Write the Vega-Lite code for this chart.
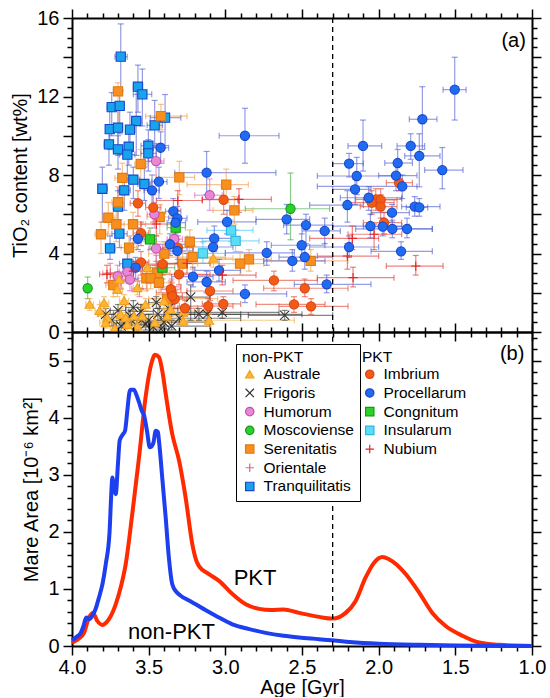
{
"$schema":"https://vega.github.io/schema/vega-lite/v6.json",
"padding":{"left":10,"top":8,"right":0,"bottom":0},
"bounds":"flush",
"spacing":0,
"config":{"font":"Liberation Sans","view":{"stroke":null},
"axis":{"domainColor":"black","domainWidth":2,"tickColor":"black","tickWidth":1.5,"grid":false,"labelFont":"Liberation Sans","labelFontSize":20,"labelColor":"black","titleFont":"Liberation Sans","titleFontSize":20,"titleFontWeight":"normal","titleColor":"black","labelFlush":false,"labelOverlap":false,"labelPadding":4},
"legend":{"labelFont":"Liberation Sans","labelFontSize":15.5,"labelColor":"black","titleFont":"Liberation Sans","titleFontSize":15.5,"titleFontWeight":"normal","titleColor":"black"}},
"resolve":{"scale":{"color":"independent"}},
"datasets":{
"pts":[
{"g":"Tranquilitatis","a":3.682,"a0":3.72,"a1":3.64,"t":14.03,"t0":12.3,"t1":15.7},
{"g":"Tranquilitatis","a":3.57,"a0":3.6,"a1":3.54,"t":12.5,"t0":11.2,"t1":13.6},
{"g":"Tranquilitatis","a":3.541,"a0":3.6,"a1":3.48,"t":12.11,"t0":10.5,"t1":13.4},
{"g":"Tranquilitatis","a":3.741,"a0":3.77,"a1":3.71,"t":11.46,"t0":10.0,"t1":12.2},
{"g":"Tranquilitatis","a":3.689,"a0":3.72,"a1":3.66,"t":11.52,"t0":10.1,"t1":12.3},
{"g":"Tranquilitatis","a":3.393,"a0":3.49,"a1":3.29,"t":10.92,"t0":9.5,"t1":12.1},
{"g":"Tranquilitatis","a":3.581,"a0":3.61,"a1":3.55,"t":10.75,"t0":9.0,"t1":12.3},
{"g":"Tranquilitatis","a":3.461,"a0":3.51,"a1":3.41,"t":10.53,"t0":9.4,"t1":11.8},
{"g":"Tranquilitatis","a":3.754,"a0":3.78,"a1":3.73,"t":10.34,"t0":9.3,"t1":11.4},
{"g":"Tranquilitatis","a":3.7,"a0":3.73,"a1":3.67,"t":10.41,"t0":9.0,"t1":11.3},
{"g":"Tranquilitatis","a":3.622,"a0":3.65,"a1":3.59,"t":10.31,"t0":9.3,"t1":11.2},
{"g":"Tranquilitatis","a":3.759,"a0":3.79,"a1":3.73,"t":9.56,"t0":8.5,"t1":10.4},
{"g":"Tranquilitatis","a":3.7,"a0":3.73,"a1":3.67,"t":9.31,"t0":8.3,"t1":10.0},
{"g":"Tranquilitatis","a":3.63,"a0":3.66,"a1":3.6,"t":9.44,"t0":8.5,"t1":10.5},
{"g":"Tranquilitatis","a":3.639,"a0":3.69,"a1":3.59,"t":9.04,"t0":8.0,"t1":9.6},
{"g":"Tranquilitatis","a":3.502,"a0":3.55,"a1":3.45,"t":9.49,"t0":8.7,"t1":10.3},
{"g":"Tranquilitatis","a":3.502,"a0":3.55,"a1":3.45,"t":9.1,"t0":8.2,"t1":9.8},
{"g":"Tranquilitatis","a":3.6,"a0":3.64,"a1":3.56,"t":7.76,"t0":6.8,"t1":8.4},
{"g":"Tranquilitatis","a":3.528,"a0":3.57,"a1":3.49,"t":7.54,"t0":6.7,"t1":8.4},
{"g":"Tranquilitatis","a":3.802,"a0":3.83,"a1":3.77,"t":7.3,"t0":5.6,"t1":8.4},
{"g":"Tranquilitatis","a":3.659,"a0":3.7,"a1":3.62,"t":7.22,"t0":6.2,"t1":8.0},
{"g":"Tranquilitatis","a":3.7,"a0":3.73,"a1":3.67,"t":6.39,"t0":5.4,"t1":7.2},
{"g":"Tranquilitatis","a":3.691,"a0":3.74,"a1":3.64,"t":5.01,"t0":4.3,"t1":5.7},
{"g":"Tranquilitatis","a":3.752,"a0":3.78,"a1":3.72,"t":4.26,"t0":3.7,"t1":4.9},
{"g":"Tranquilitatis","a":3.639,"a0":3.69,"a1":3.59,"t":3.48,"t0":2.9,"t1":4.0},
{"g":"Serenitatis","a":3.7,"a0":3.73,"a1":3.67,"t":12.26,"t0":10.5,"t1":12.7},
{"g":"Serenitatis","a":3.42,"a0":3.52,"a1":3.25,"t":11.0,"t0":10.3,"t1":11.6},
{"g":"Serenitatis","a":3.552,"a0":3.59,"a1":3.51,"t":8.56,"t0":7.6,"t1":9.3},
{"g":"Serenitatis","a":3.672,"a0":3.72,"a1":3.62,"t":7.85,"t0":6.8,"t1":8.6},
{"g":"Serenitatis","a":3.3,"a0":3.45,"a1":3.2,"t":7.88,"t0":7.0,"t1":8.7},
{"g":"Serenitatis","a":2.994,"a0":3.25,"a1":2.85,"t":7.51,"t0":6.6,"t1":8.3},
{"g":"Serenitatis","a":3.7,"a0":3.74,"a1":3.66,"t":6.61,"t0":5.6,"t1":7.4},
{"g":"Serenitatis","a":2.941,"a0":3.08,"a1":2.82,"t":6.2,"t0":5.5,"t1":6.9},
{"g":"Serenitatis","a":3.763,"a0":3.8,"a1":3.72,"t":5.82,"t0":5.0,"t1":6.6},
{"g":"Serenitatis","a":3.711,"a0":3.76,"a1":3.66,"t":5.49,"t0":4.6,"t1":6.3},
{"g":"Serenitatis","a":3.602,"a0":3.68,"a1":3.52,"t":5.49,"t0":4.5,"t1":6.1},
{"g":"Serenitatis","a":3.428,"a0":3.51,"a1":3.35,"t":5.86,"t0":5.0,"t1":6.5},
{"g":"Serenitatis","a":3.811,"a0":3.85,"a1":3.77,"t":4.98,"t0":4.0,"t1":5.6},
{"g":"Serenitatis","a":3.628,"a0":3.68,"a1":3.58,"t":4.3,"t0":3.6,"t1":4.9},
{"g":"Serenitatis","a":3.232,"a0":3.45,"a1":3.05,"t":4.6,"t0":3.9,"t1":5.2},
{"g":"Serenitatis","a":3.398,"a0":3.5,"a1":3.3,"t":3.99,"t0":3.3,"t1":4.6},
{"g":"Serenitatis","a":3.213,"a0":3.4,"a1":3.0,"t":3.82,"t0":3.2,"t1":4.4},
{"g":"Serenitatis","a":3.278,"a0":3.38,"a1":3.18,"t":3.48,"t0":2.9,"t1":4.1},
{"g":"Serenitatis","a":2.846,"a0":3.1,"a1":2.7,"t":3.7,"t0":3.1,"t1":4.2},
{"g":"Serenitatis","a":2.904,"a0":3.1,"a1":2.75,"t":3.48,"t0":2.9,"t1":4.1},
{"g":"Serenitatis","a":2.443,"a0":2.75,"a1":2.2,"t":3.62,"t0":3.1,"t1":4.2},
{"g":"Serenitatis","a":3.444,"a0":3.52,"a1":3.36,"t":3.01,"t0":2.4,"t1":3.6},
{"g":"Serenitatis","a":3.515,"a0":3.57,"a1":3.46,"t":2.74,"t0":2.1,"t1":3.3},
{"g":"Serenitatis","a":3.487,"a0":3.54,"a1":3.43,"t":2.74,"t0":2.2,"t1":3.3},
{"g":"Serenitatis","a":3.433,"a0":3.51,"a1":3.35,"t":2.51,"t0":1.9,"t1":3.1},
{"g":"Serenitatis","a":3.731,"a0":3.78,"a1":3.68,"t":2.39,"t0":1.8,"t1":3.0},
{"g":"Serenitatis","a":3.378,"a0":3.5,"a1":3.05,"t":1.7,"t0":1.2,"t1":2.2},
{"g":"Humorum","a":3.452,"a0":3.5,"a1":3.4,"t":8.71,"t0":7.7,"t1":9.6},
{"g":"Humorum","a":3.102,"a0":3.2,"a1":3.02,"t":6.97,"t0":6.2,"t1":7.8},
{"g":"Humorum","a":3.463,"a0":3.51,"a1":3.41,"t":6.0,"t0":5.3,"t1":6.6},
{"g":"Humorum","a":3.333,"a0":3.38,"a1":3.28,"t":4.74,"t0":4.1,"t1":5.4},
{"g":"Humorum","a":3.452,"a0":3.5,"a1":3.4,"t":4.26,"t0":3.6,"t1":4.9},
{"g":"Humorum","a":3.639,"a0":3.69,"a1":3.59,"t":3.07,"t0":2.5,"t1":3.6},
{"g":"Humorum","a":3.702,"a0":3.75,"a1":3.65,"t":2.84,"t0":2.3,"t1":3.4},
{"g":"Humorum","a":3.622,"a0":3.67,"a1":3.57,"t":2.67,"t0":2.1,"t1":3.2},
{"g":"Moscoviense","a":3.898,"a0":3.92,"a1":3.88,"t":2.23,"t0":1.7,"t1":2.8},
{"g":"Moscoviense","a":2.575,"a0":2.87,"a1":2.32,"t":6.28,"t0":4.7,"t1":8.1},
{"g":"Congnitum","a":3.491,"a0":3.53,"a1":3.45,"t":4.72,"t0":4.2,"t1":5.3},
{"g":"Congnitum","a":3.324,"a0":3.38,"a1":3.26,"t":5.32,"t0":4.7,"t1":5.9},
{"g":"Congnitum","a":3.41,"a0":3.49,"a1":3.33,"t":3.28,"t0":2.7,"t1":3.8},
{"g":"Insularum","a":2.963,"a0":3.12,"a1":2.82,"t":5.18,"t0":4.6,"t1":5.7},
{"g":"Insularum","a":2.933,"a0":3.15,"a1":2.78,"t":4.64,"t0":4.1,"t1":5.2},
{"g":"Insularum","a":3.146,"a0":3.3,"a1":3.0,"t":4.01,"t0":3.5,"t1":4.6},
{"g":"Imbrium","a":3.57,"a0":3.62,"a1":3.52,"t":6.56,"t0":5.9,"t1":7.2},
{"g":"Imbrium","a":3.011,"a0":3.15,"a1":2.92,"t":6.74,"t0":6.0,"t1":7.4},
{"g":"Imbrium","a":3.47,"a0":3.52,"a1":3.42,"t":6.34,"t0":5.6,"t1":7.0},
{"g":"Imbrium","a":3.55,"a0":3.6,"a1":3.5,"t":5.04,"t0":4.4,"t1":5.6},
{"g":"Imbrium","a":3.309,"a0":3.41,"a1":3.21,"t":4.3,"t0":3.7,"t1":4.9},
{"g":"Imbrium","a":3.55,"a0":3.6,"a1":3.5,"t":3.55,"t0":2.9,"t1":4.1},
{"g":"Imbrium","a":3.409,"a0":3.51,"a1":3.31,"t":3.46,"t0":2.9,"t1":4.0},
{"g":"Imbrium","a":3.302,"a0":3.45,"a1":3.1,"t":2.94,"t0":2.4,"t1":3.5},
{"g":"Imbrium","a":2.683,"a0":2.95,"a1":2.4,"t":2.63,"t0":2.1,"t1":3.1},
{"g":"Imbrium","a":2.482,"a0":2.75,"a1":2.2,"t":2.23,"t0":1.8,"t1":2.7},
{"g":"Imbrium","a":3.1,"a0":3.25,"a1":2.95,"t":2.09,"t0":1.6,"t1":2.6},
{"g":"Imbrium","a":3.35,"a0":3.45,"a1":3.25,"t":2.0,"t0":1.5,"t1":2.5},
{"g":"Imbrium","a":3.33,"a0":3.41,"a1":3.25,"t":1.67,"t0":1.2,"t1":2.1},
{"g":"Imbrium","a":3.263,"a0":3.34,"a1":3.18,"t":1.21,"t0":0.8,"t1":1.6},
{"g":"Imbrium","a":3.111,"a0":3.3,"a1":2.95,"t":1.32,"t0":0.9,"t1":1.7},
{"g":"Imbrium","a":3.013,"a0":3.15,"a1":2.9,"t":1.43,"t0":1.0,"t1":1.8},
{"g":"Imbrium","a":2.552,"a0":2.8,"a1":2.35,"t":1.41,"t0":1.0,"t1":1.8},
{"g":"Imbrium","a":2.441,"a0":2.65,"a1":2.2,"t":1.31,"t0":0.9,"t1":1.7},
{"g":"Imbrium","a":1.867,"a0":1.95,"a1":1.78,"t":7.61,"t0":7.2,"t1":8.0},
{"g":"Imbrium","a":2.019,"a0":2.15,"a1":1.85,"t":6.76,"t0":6.2,"t1":7.3},
{"g":"Imbrium","a":1.987,"a0":2.1,"a1":1.88,"t":6.73,"t0":6.2,"t1":7.3},
{"g":"Imbrium","a":2.045,"a0":2.2,"a1":1.9,"t":6.59,"t0":6.0,"t1":7.2},
{"g":"Imbrium","a":1.987,"a0":2.12,"a1":1.88,"t":6.39,"t0":5.8,"t1":7.0},
{"g":"Imbrium","a":1.965,"a0":2.1,"a1":1.85,"t":5.57,"t0":5.0,"t1":6.1},
{"g":"Imbrium","a":3.356,"a0":3.42,"a1":3.29,"t":2.18,"t0":1.7,"t1":2.6},
{"g":"Imbrium","a":3.346,"a0":3.41,"a1":3.28,"t":1.83,"t0":1.4,"t1":2.3},
{"g":"Procellarum","a":2.872,"a0":3.04,"a1":2.65,"t":10.0,"t0":8.6,"t1":11.4},
{"g":"Procellarum","a":3.422,"a0":3.47,"a1":3.37,"t":9.39,"t0":8.6,"t1":10.2},
{"g":"Procellarum","a":3.122,"a0":3.33,"a1":2.67,"t":8.12,"t0":7.0,"t1":9.2},
{"g":"Procellarum","a":3.433,"a0":3.48,"a1":3.38,"t":7.66,"t0":6.8,"t1":8.4},
{"g":"Procellarum","a":3.478,"a0":3.53,"a1":3.43,"t":7.22,"t0":6.3,"t1":8.0},
{"g":"Procellarum","a":3.339,"a0":3.39,"a1":3.29,"t":6.15,"t0":5.5,"t1":6.8},
{"g":"Procellarum","a":3.313,"a0":3.37,"a1":3.25,"t":5.79,"t0":5.1,"t1":6.4},
{"g":"Procellarum","a":3.324,"a0":3.38,"a1":3.26,"t":5.57,"t0":5.0,"t1":6.2},
{"g":"Procellarum","a":2.989,"a0":3.18,"a1":2.8,"t":5.61,"t0":5.0,"t1":6.2},
{"g":"Procellarum","a":2.6,"a0":2.8,"a1":2.45,"t":5.74,"t0":5.0,"t1":6.5},
{"g":"Procellarum","a":2.474,"a0":2.62,"a1":2.3,"t":5.45,"t0":4.5,"t1":6.0},
{"g":"Procellarum","a":3.57,"a0":3.62,"a1":3.52,"t":4.75,"t0":4.2,"t1":5.3},
{"g":"Procellarum","a":3.361,"a0":3.46,"a1":3.26,"t":4.47,"t0":3.9,"t1":5.0},
{"g":"Procellarum","a":3.072,"a0":3.25,"a1":2.95,"t":4.77,"t0":4.1,"t1":5.4},
{"g":"Procellarum","a":3.08,"a0":3.25,"a1":2.95,"t":4.33,"t0":3.7,"t1":4.9},
{"g":"Procellarum","a":3.313,"a0":3.41,"a1":3.21,"t":4.13,"t0":3.5,"t1":4.7},
{"g":"Procellarum","a":2.502,"a0":2.7,"a1":2.35,"t":4.42,"t0":3.8,"t1":5.0},
{"g":"Procellarum","a":2.73,"a0":3.0,"a1":2.55,"t":4.03,"t0":3.4,"t1":4.6},
{"g":"Procellarum","a":2.563,"a0":2.75,"a1":2.35,"t":3.62,"t0":3.1,"t1":4.2},
{"g":"Procellarum","a":2.482,"a0":2.65,"a1":2.3,"t":3.82,"t0":3.2,"t1":4.4},
{"g":"Procellarum","a":3.585,"a0":3.63,"a1":3.54,"t":3.28,"t0":2.7,"t1":3.8},
{"g":"Procellarum","a":3.041,"a0":3.2,"a1":2.9,"t":3.14,"t0":2.6,"t1":3.7},
{"g":"Procellarum","a":3.211,"a0":3.35,"a1":3.08,"t":2.82,"t0":2.3,"t1":3.3},
{"g":"Procellarum","a":3.122,"a0":3.25,"a1":3.0,"t":2.55,"t0":2.0,"t1":3.1},
{"g":"Procellarum","a":2.872,"a0":3.1,"a1":2.6,"t":1.94,"t0":1.5,"t1":2.4},
{"g":"Procellarum","a":1.504,"a0":1.58,"a1":1.43,"t":12.35,"t0":10.8,"t1":14.0},
{"g":"Procellarum","a":1.715,"a0":1.8,"a1":1.62,"t":10.84,"t0":9.3,"t1":12.5},
{"g":"Procellarum","a":2.102,"a0":2.2,"a1":1.98,"t":9.48,"t0":8.2,"t1":10.8},
{"g":"Procellarum","a":1.791,"a0":1.88,"a1":1.7,"t":9.48,"t0":8.8,"t1":10.1},
{"g":"Procellarum","a":1.735,"a0":1.83,"a1":1.6,"t":8.97,"t0":7.4,"t1":10.1},
{"g":"Procellarum","a":2.193,"a0":2.3,"a1":2.1,"t":8.58,"t0":7.9,"t1":9.1},
{"g":"Procellarum","a":1.876,"a0":1.96,"a1":1.78,"t":8.61,"t0":7.9,"t1":9.3},
{"g":"Procellarum","a":1.585,"a0":1.7,"a1":1.45,"t":8.25,"t0":7.3,"t1":9.4},
{"g":"Procellarum","a":2.143,"a0":2.4,"a1":1.9,"t":7.95,"t0":7.0,"t1":8.9},
{"g":"Procellarum","a":1.887,"a0":2.0,"a1":1.75,"t":7.97,"t0":7.2,"t1":8.6},
{"g":"Procellarum","a":1.846,"a0":2.4,"a1":1.75,"t":7.42,"t0":6.8,"t1":8.0},
{"g":"Procellarum","a":2.154,"a0":2.3,"a1":2.05,"t":7.27,"t0":6.5,"t1":7.8},
{"g":"Procellarum","a":2.065,"a0":2.25,"a1":1.85,"t":6.84,"t0":6.2,"t1":7.4},
{"g":"Procellarum","a":2.204,"a0":2.45,"a1":2.1,"t":6.47,"t0":5.6,"t1":7.2},
{"g":"Procellarum","a":1.765,"a0":1.85,"a1":1.6,"t":6.39,"t0":5.9,"t1":6.9},
{"g":"Procellarum","a":1.735,"a0":1.82,"a1":1.68,"t":6.35,"t0":5.9,"t1":6.8},
{"g":"Procellarum","a":1.913,"a0":2.05,"a1":1.8,"t":6.08,"t0":5.6,"t1":6.5},
{"g":"Procellarum","a":2.352,"a0":2.5,"a1":2.25,"t":5.15,"t0":4.5,"t1":5.8},
{"g":"Procellarum","a":2.054,"a0":2.3,"a1":1.85,"t":5.4,"t0":4.8,"t1":6.0},
{"g":"Procellarum","a":1.973,"a0":2.1,"a1":1.8,"t":5.37,"t0":4.9,"t1":5.8},
{"g":"Procellarum","a":1.911,"a0":2.15,"a1":1.65,"t":5.25,"t0":4.8,"t1":5.7},
{"g":"Procellarum","a":1.815,"a0":1.9,"a1":1.65,"t":5.25,"t0":4.8,"t1":5.8},
{"g":"Procellarum","a":2.193,"a0":2.45,"a1":2.0,"t":4.33,"t0":3.8,"t1":4.9},
{"g":"Procellarum","a":1.854,"a0":2.05,"a1":1.65,"t":4.11,"t0":3.7,"t1":4.6},
{"g":"Procellarum","a":2.339,"a0":2.55,"a1":2.05,"t":2.43,"t0":2.0,"t1":2.9},
{"g":"Nubium","a":2.911,"a0":3.15,"a1":2.7,"t":6.76,"t0":6.1,"t1":7.3},
{"g":"Nubium","a":2.172,"a0":2.45,"a1":2.0,"t":4.77,"t0":4.2,"t1":5.4},
{"g":"Nubium","a":2.03,"a0":2.2,"a1":1.85,"t":4.98,"t0":4.2,"t1":5.5},
{"g":"Nubium","a":2.204,"a0":2.4,"a1":2.0,"t":3.87,"t0":3.2,"t1":4.5},
{"g":"Nubium","a":2.167,"a0":2.4,"a1":1.9,"t":2.77,"t0":2.3,"t1":3.3},
{"g":"Nubium","a":1.758,"a0":1.95,"a1":1.58,"t":3.36,"t0":2.9,"t1":3.9},
{"g":"Nubium","a":3.772,"a0":3.82,"a1":3.72,"t":2.94,"t0":2.5,"t1":3.4},
{"g":"Nubium","a":3.45,"a0":3.55,"a1":3.35,"t":5.5,"t0":4.9,"t1":6.0},
{"g":"Nubium","a":3.6,"a0":3.66,"a1":3.54,"t":3.1,"t0":2.6,"t1":3.6},
{"g":"Nubium","a":3.02,"a0":3.2,"a1":2.8,"t":2.9,"t0":2.4,"t1":3.4},
{"g":"Nubium","a":3.25,"a0":3.4,"a1":3.1,"t":3.5,"t0":3.0,"t1":4.0},
{"g":"Nubium","a":3.31,"a0":3.45,"a1":3.15,"t":6.7,"t0":6.2,"t1":7.2},
{"g":"Orientale","a":3.75,"a0":3.8,"a1":3.7,"t":3.0,"t0":2.5,"t1":3.5},
{"g":"Orientale","a":3.68,"a0":3.72,"a1":3.64,"t":2.6,"t0":2.2,"t1":3.0},
{"g":"Orientale","a":3.45,"a0":3.51,"a1":3.39,"t":3.4,"t0":2.9,"t1":3.9},
{"g":"Orientale","a":3.35,"a0":3.41,"a1":3.29,"t":2.3,"t0":1.9,"t1":2.7},
{"g":"Orientale","a":3.56,"a0":3.61,"a1":3.51,"t":2.2,"t0":1.8,"t1":2.6},
{"g":"Frigoris","a":3.226,"a0":3.35,"a1":3.1,"t":1.78,"t0":0.6,"t1":2.4},
{"g":"Frigoris","a":3.172,"a0":3.4,"a1":2.5,"t":0.9,"t0":0.6,"t1":1.2},
{"g":"Frigoris","a":3.118,"a0":3.35,"a1":2.9,"t":0.9,"t0":0.6,"t1":1.2},
{"g":"Frigoris","a":3.02,"a0":3.25,"a1":2.65,"t":1.0,"t0":0.7,"t1":1.3},
{"g":"Frigoris","a":2.613,"a0":2.85,"a1":2.3,"t":0.85,"t0":0.6,"t1":1.1},
{"g":"Frigoris","a":3.78,"a0":3.83,"a1":3.73,"t":0.9,"t0":0.6,"t1":1.2},
{"g":"Frigoris","a":3.74,"a0":3.79,"a1":3.69,"t":0.6,"t0":0.3,"t1":0.9},
{"g":"Frigoris","a":3.7,"a0":3.75,"a1":3.65,"t":1.1,"t0":0.8,"t1":1.4},
{"g":"Frigoris","a":3.66,"a0":3.71,"a1":3.61,"t":0.45,"t0":0.2,"t1":0.7},
{"g":"Frigoris","a":3.62,"a0":3.68,"a1":3.56,"t":0.8,"t0":0.5,"t1":1.1},
{"g":"Frigoris","a":3.58,"a0":3.63,"a1":3.53,"t":0.35,"t0":0.1,"t1":0.6},
{"g":"Frigoris","a":3.55,"a0":3.63,"a1":3.47,"t":1.05,"t0":0.7,"t1":1.4},
{"g":"Frigoris","a":3.5,"a0":3.6,"a1":3.3,"t":0.6,"t0":0.3,"t1":0.9},
{"g":"Frigoris","a":3.47,"a0":3.52,"a1":3.42,"t":0.25,"t0":0.05,"t1":0.5},
{"g":"Frigoris","a":3.44,"a0":3.55,"a1":3.2,"t":0.9,"t0":0.6,"t1":1.2},
{"g":"Frigoris","a":3.4,"a0":3.55,"a1":3.1,"t":0.5,"t0":0.2,"t1":0.8},
{"g":"Frigoris","a":3.37,"a0":3.43,"a1":3.31,"t":1.2,"t0":0.9,"t1":1.5},
{"g":"Frigoris","a":3.35,"a0":3.5,"a1":3.1,"t":0.3,"t0":0.1,"t1":0.6},
{"g":"Frigoris","a":3.45,"a0":3.5,"a1":3.4,"t":1.5,"t0":1.2,"t1":1.8},
{"g":"Frigoris","a":3.6,"a0":3.65,"a1":3.55,"t":1.25,"t0":0.9,"t1":1.6},
{"g":"Frigoris","a":3.52,"a0":3.57,"a1":3.47,"t":0.4,"t0":0.1,"t1":0.7},
{"g":"Frigoris","a":3.68,"a0":3.73,"a1":3.63,"t":0.3,"t0":0.05,"t1":0.6},
{"g":"Frigoris","a":3.3,"a0":3.4,"a1":2.9,"t":0.7,"t0":0.4,"t1":1.0},
{"g":"Frigoris","a":3.42,"a0":3.47,"a1":3.37,"t":0.15,"t0":0.0,"t1":0.4},
{"g":"Australe","a":3.885,"a0":3.91,"a1":3.86,"t":1.41,"t0":1.1,"t1":1.7},
{"g":"Australe","a":3.791,"a0":3.82,"a1":3.76,"t":1.49,"t0":1.2,"t1":1.8},
{"g":"Australe","a":3.704,"a0":3.73,"a1":3.67,"t":2.17,"t0":1.8,"t1":2.5},
{"g":"Australe","a":3.693,"a0":3.72,"a1":3.66,"t":2.69,"t0":2.3,"t1":3.0},
{"g":"Australe","a":3.574,"a0":3.6,"a1":3.54,"t":2.26,"t0":1.9,"t1":2.6},
{"g":"Australe","a":3.509,"a0":3.56,"a1":3.46,"t":3.28,"t0":2.9,"t1":3.6},
{"g":"Australe","a":3.52,"a0":3.57,"a1":3.47,"t":1.41,"t0":1.1,"t1":1.7},
{"g":"Australe","a":3.77,"a0":3.81,"a1":3.73,"t":0.73,"t0":0.4,"t1":1.0},
{"g":"Australe","a":3.682,"a0":3.72,"a1":3.64,"t":0.9,"t0":0.6,"t1":1.2},
{"g":"Australe","a":3.65,"a0":3.69,"a1":3.61,"t":0.73,"t0":0.4,"t1":1.0},
{"g":"Australe","a":3.639,"a0":3.68,"a1":3.6,"t":0.39,"t0":0.1,"t1":0.7},
{"g":"Australe","a":3.596,"a0":3.65,"a1":3.55,"t":0.82,"t0":0.5,"t1":1.1},
{"g":"Australe","a":3.78,"a0":3.82,"a1":3.74,"t":0.47,"t0":0.2,"t1":0.8},
{"g":"Australe","a":3.541,"a0":3.59,"a1":3.49,"t":0.82,"t0":0.5,"t1":1.1},
{"g":"Australe","a":3.574,"a0":3.62,"a1":3.52,"t":0.31,"t0":0.1,"t1":0.6},
{"g":"Australe","a":3.356,"a0":3.44,"a1":3.28,"t":1.16,"t0":0.8,"t1":1.5},
{"g":"Australe","a":3.4,"a0":3.46,"a1":3.34,"t":1.58,"t0":1.2,"t1":1.9},
{"g":"Australe","a":3.378,"a0":3.46,"a1":3.3,"t":0.82,"t0":0.5,"t1":1.1},
{"g":"Australe","a":3.078,"a0":3.2,"a1":2.95,"t":3.76,"t0":3.3,"t1":4.2},
{"g":"Australe","a":3.27,"a0":3.4,"a1":3.1,"t":1.07,"t0":0.8,"t1":1.4},
{"g":"Australe","a":3.274,"a0":3.4,"a1":3.1,"t":0.56,"t0":0.3,"t1":0.8},
{"g":"Australe","a":3.106,"a0":3.25,"a1":2.55,"t":0.6,"t0":0.3,"t1":0.9},
{"g":"Australe","a":3.72,"a0":3.75,"a1":3.69,"t":0.2,"t0":0.0,"t1":0.5},
{"g":"Australe","a":3.66,"a0":3.69,"a1":3.63,"t":1.6,"t0":1.3,"t1":1.9},
{"g":"Australe","a":3.46,"a0":3.51,"a1":3.41,"t":0.5,"t0":0.2,"t1":0.8},
{"g":"Australe","a":3.82,"a0":3.85,"a1":3.79,"t":1.1,"t0":0.8,"t1":1.4}
],
"curves":[
{"s":"PKT","age":4.0,"v":0.06},{"s":"PKT","age":3.96,"v":0.12},{"s":"PKT","age":3.922,"v":0.23},{"s":"PKT","age":3.889,"v":0.5},{"s":"PKT","age":3.863,"v":0.58},{"s":"PKT","age":3.835,"v":0.44},{"s":"PKT","age":3.802,"v":0.37},{"s":"PKT","age":3.759,"v":0.47},{"s":"PKT","age":3.715,"v":0.73},{"s":"PKT","age":3.68,"v":1.05},{"s":"PKT","age":3.65,"v":1.43},{"s":"PKT","age":3.607,"v":2.31},{"s":"PKT","age":3.563,"v":3.3},{"s":"PKT","age":3.52,"v":4.36},{"s":"PKT","age":3.48,"v":4.97},{"s":"PKT","age":3.459,"v":5.1},{"s":"PKT","age":3.433,"v":5.06},{"s":"PKT","age":3.41,"v":4.8},{"s":"PKT","age":3.389,"v":4.42},{"s":"PKT","age":3.346,"v":3.71},{"s":"PKT","age":3.302,"v":3.25},{"s":"PKT","age":3.259,"v":2.6},{"s":"PKT","age":3.215,"v":1.78},{"s":"PKT","age":3.19,"v":1.5},{"s":"PKT","age":3.172,"v":1.4},{"s":"PKT","age":3.107,"v":1.26},{"s":"PKT","age":3.041,"v":1.14},{"s":"PKT","age":2.954,"v":0.91},{"s":"PKT","age":2.867,"v":0.73},{"s":"PKT","age":2.78,"v":0.65},{"s":"PKT","age":2.7,"v":0.63},{"s":"PKT","age":2.62,"v":0.64},{"s":"PKT","age":2.52,"v":0.58},{"s":"PKT","age":2.389,"v":0.51},{"s":"PKT","age":2.302,"v":0.48},{"s":"PKT","age":2.215,"v":0.58},{"s":"PKT","age":2.15,"v":0.79},{"s":"PKT","age":2.085,"v":1.2},{"s":"PKT","age":2.03,"v":1.46},{"s":"PKT","age":1.976,"v":1.56},{"s":"PKT","age":1.933,"v":1.52},{"s":"PKT","age":1.88,"v":1.42},{"s":"PKT","age":1.824,"v":1.26},{"s":"PKT","age":1.737,"v":0.94},{"s":"PKT","age":1.65,"v":0.58},{"s":"PKT","age":1.563,"v":0.35},{"s":"PKT","age":1.454,"v":0.18},{"s":"PKT","age":1.346,"v":0.06},{"s":"PKT","age":1.215,"v":0.02},{"s":"PKT","age":1.0,"v":0.0},
{"s":"non-PKT","age":4.0,"v":0.1},{"s":"non-PKT","age":3.97,"v":0.16},{"s":"non-PKT","age":3.943,"v":0.23},{"s":"non-PKT","age":3.925,"v":0.35},{"s":"non-PKT","age":3.907,"v":0.5},{"s":"non-PKT","age":3.885,"v":0.47},{"s":"non-PKT","age":3.87,"v":0.52},{"s":"non-PKT","age":3.85,"v":0.62},{"s":"non-PKT","age":3.824,"v":0.85},{"s":"non-PKT","age":3.8,"v":1.1},{"s":"non-PKT","age":3.78,"v":1.43},{"s":"non-PKT","age":3.755,"v":2.0},{"s":"non-PKT","age":3.745,"v":2.6},{"s":"non-PKT","age":3.737,"v":2.95},{"s":"non-PKT","age":3.725,"v":2.75},{"s":"non-PKT","age":3.715,"v":2.66},{"s":"non-PKT","age":3.7,"v":3.2},{"s":"non-PKT","age":3.689,"v":3.6},{"s":"non-PKT","age":3.67,"v":3.7},{"s":"non-PKT","age":3.654,"v":3.77},{"s":"non-PKT","age":3.64,"v":4.1},{"s":"non-PKT","age":3.625,"v":4.45},{"s":"non-PKT","age":3.617,"v":4.49},{"s":"non-PKT","age":3.596,"v":4.49},{"s":"non-PKT","age":3.58,"v":4.4},{"s":"non-PKT","age":3.563,"v":4.27},{"s":"non-PKT","age":3.545,"v":4.12},{"s":"non-PKT","age":3.53,"v":4.04},{"s":"non-PKT","age":3.51,"v":3.75},{"s":"non-PKT","age":3.493,"v":3.48},{"s":"non-PKT","age":3.47,"v":3.55},{"s":"non-PKT","age":3.454,"v":3.77},{"s":"non-PKT","age":3.44,"v":3.75},{"s":"non-PKT","age":3.433,"v":3.6},{"s":"non-PKT","age":3.41,"v":2.9},{"s":"non-PKT","age":3.389,"v":2.25},{"s":"non-PKT","age":3.37,"v":1.6},{"s":"non-PKT","age":3.346,"v":1.08},{"s":"non-PKT","age":3.32,"v":0.95},{"s":"non-PKT","age":3.291,"v":0.88},{"s":"non-PKT","age":3.24,"v":0.8},{"s":"non-PKT","age":3.193,"v":0.73},{"s":"non-PKT","age":3.13,"v":0.63},{"s":"non-PKT","age":3.063,"v":0.53},{"s":"non-PKT","age":2.954,"v":0.38},{"s":"non-PKT","age":2.85,"v":0.3},{"s":"non-PKT","age":2.737,"v":0.23},{"s":"non-PKT","age":2.62,"v":0.18},{"s":"non-PKT","age":2.52,"v":0.15},{"s":"non-PKT","age":2.389,"v":0.12},{"s":"non-PKT","age":2.19,"v":0.07},{"s":"non-PKT","age":2.0,"v":0.04},{"s":"non-PKT","age":1.74,"v":0.02},{"s":"non-PKT","age":1.5,"v":0.01},{"s":"non-PKT","age":1.0,"v":0.0}
],
"notes":[{"label":"PKT","x":2.806,"y":1.19},{"label":"non-PKT","x":3.351,"y":0.25}],
"dash":[{"age":2.3,"lo":0,"hi":2.5},{"age":2.3,"lo":5.33,"hi":5.5}]
},
"vconcat":[
{"width":460,"height":314,
"data":{"name":"pts"},
"layer":[
{"mark":{"type":"rule","strokeWidth":1.2,"opacity":0.6},
"encoding":{"x":{"field":"a0","type":"quantitative","scale":{"domain":[1,4],"reverse":true,"nice":false,"zero":false},"axis":null},"x2":{"field":"a1"},
"y":{"field":"t","type":"quantitative","scale":{"domain":[0,16],"nice":false,"zero":false},"axis":null},
"color":{"field":"g","type":"nominal","legend":null,"scale":{"domain":["Australe","Frigoris","Humorum","Moscoviense","Serenitatis","Orientale","Tranquilitatis","Imbrium","Procellarum","Congnitum","Insularum","Nubium"],"range":["#F2A83A","#333333","#D766C0","#3DAA3D","#F29B45","#E0607A","#4D58CC","#E2452E","#4D5BD6","#3DAA3D","#45C8F0","#E43030"]}}}},
{"mark":{"type":"rule","strokeWidth":1.2,"opacity":0.6},
"encoding":{"x":{"field":"a","type":"quantitative","axis":null},"y":{"field":"t0","type":"quantitative","axis":null},"y2":{"field":"t1"},
"color":{"field":"g","type":"nominal","legend":null}}},
{"transform":[{"fold":["a0","a1"],"as":["k","av"]}],
"mark":{"type":"point","shape":"M0,-1L0,1","size":36,"strokeWidth":1.2,"opacity":0.6,"filled":false},
"encoding":{"x":{"field":"av","type":"quantitative","axis":null},"y":{"field":"t","type":"quantitative","axis":null},"color":{"field":"g","type":"nominal","legend":null}}},
{"transform":[{"fold":["t0","t1"],"as":["k","tv"]}],
"mark":{"type":"point","shape":"M-1,0L1,0","size":36,"strokeWidth":1.2,"opacity":0.6,"filled":false},
"encoding":{"x":{"field":"a","type":"quantitative","axis":null},"y":{"field":"tv","type":"quantitative","axis":null},"color":{"field":"g","type":"nominal","legend":null}}},
{"transform":[{"filter":{"field":"g","oneOf":["Australe","Frigoris","Humorum","Moscoviense","Serenitatis","Orientale","Tranquilitatis"]}}],
"mark":{"type":"point","filled":true,"size":85,"strokeWidth":1.1,"opacity":1},
"encoding":{
"x":{"field":"a","type":"quantitative","axis":{"orient":"bottom","values":[1,1.1,1.2,1.3,1.4,1.5,1.6,1.7,1.8,1.9,2,2.1,2.2,2.3,2.4,2.5,2.6,2.7,2.8,2.9,3,3.1,3.2,3.3,3.4,3.5,3.6,3.7,3.8,3.9,4],"labels":false,"title":null,"tickSize":{"condition":{"test":"abs(datum.value*2-round(datum.value*2))<0.001","value":9},"value":5}}},
"y":{"field":"t","type":"quantitative","axis":{"orient":"left","values":[0,0.5,1,1.5,2,2.5,3,3.5,4,4.5,5,5.5,6,6.5,7,7.5,8,8.5,9,9.5,10,10.5,11,11.5,12,12.5,13,13.5,14,14.5,15,15.5,16],"title":"TiO₂ content [wt%]","titlePadding":6,"labelExpr":"abs(datum.value/4-round(datum.value/4))<0.001 ? format(datum.value,'d') : ''","tickSize":{"condition":{"test":"abs(datum.value/2-round(datum.value/2))<0.001","value":9},"value":5}}},
"fill":{"field":"g","type":"nominal","scale":{"domain":["Australe","Frigoris","Humorum","Moscoviense","Serenitatis","Orientale","Tranquilitatis"],"range":["#FFB62E","#444444","#E887D6","#2BD12B","#F7901E","#E06878","#18A4EC"]},
"legend":{"orient":"none","legendX":164,"legendY":326,"title":"non-PKT","titlePadding":1,"titleAnchor":"start","symbolSize":70,"symbolStrokeWidth":1.2,"strokeColor":"black","padding":6,"rowPadding":1.7,"labelOffset":6,"labelLimit":400,"labelFontSize":15.5,
"labelExpr":"datum.label === 'Moscoviense' ? datum.label + '\u00a0\u00a0\u00a0\u00a0\u00a0\u00a0\u00a0\u00a0\u00a0\u00a0\u00a0\u00a0\u00a0\u00a0\u00a0\u00a0\u00a0\u00a0\u00a0\u00a0\u00a0\u00a0\u00a0\u00a0\u00a0\u00a0' : datum.label"}},
"stroke":{"field":"g","type":"nominal","scale":{"domain":["Australe","Frigoris","Humorum","Moscoviense","Serenitatis","Orientale","Tranquilitatis"],"range":["#F0A020","#333333","#C44FAE","#139A13","#E07A12","#E06878","#1548C8"]}},
"shape":{"field":"g","type":"nominal","scale":{"domain":["Australe","Frigoris","Humorum","Moscoviense","Serenitatis","Orientale","Tranquilitatis"],"range":["triangle-up","M-1,-1L1,1M-1,1L1,-1","circle","circle","square","M-1,0L1,0M0,-1L0,1","square"]}}}},
{"transform":[{"filter":{"field":"g","oneOf":["Imbrium","Procellarum","Congnitum","Insularum","Nubium"]}}],
"mark":{"type":"point","filled":true,"size":85,"strokeWidth":1.1,"opacity":1},
"encoding":{
"x":{"field":"a","type":"quantitative","axis":null},
"y":{"field":"t","type":"quantitative","axis":null},
"fill":{"field":"g","type":"nominal","scale":{"domain":["Imbrium","Procellarum","Congnitum","Insularum","Nubium"],"range":["#F25C12","#1F6BF2","#2BD12B","#5CDDF7","#E82020"]},
"legend":{"orient":"none","legendX":284,"legendY":326,"title":"PKT","titlePadding":1,"titleAnchor":"start","symbolSize":70,"symbolStrokeWidth":1.2,"padding":6,"rowPadding":1.7,"labelOffset":6,"labelLimit":400,"labelFontSize":15.5}},
"stroke":{"field":"g","type":"nominal","scale":{"domain":["Imbrium","Procellarum","Congnitum","Insularum","Nubium"],"range":["#D9461A","#1A45C8","#139A13","#2FB5E2","#E82020"]}},
"shape":{"field":"g","type":"nominal","scale":{"domain":["Imbrium","Procellarum","Congnitum","Insularum","Nubium"],"range":["circle","circle","square","square","M-1,0L1,0M0,-1L0,1"]}}}},
{"data":{"values":[{}]},"mark":{"type":"rule","strokeDash":[5,4],"strokeWidth":1.3,"color":"black"},
"encoding":{"x":{"datum":2.3,"type":"quantitative","axis":null}}},
{"data":{"values":[{"label":"(a)"}]},"mark":{"type":"text","align":"right","baseline":"middle","fontSize":20,"color":"black"},
"encoding":{"x":{"datum":1.04,"type":"quantitative","axis":{"orient":"top","values":[1,1.1,1.2,1.3,1.4,1.5,1.6,1.7,1.8,1.9,2,2.1,2.2,2.3,2.4,2.5,2.6,2.7,2.8,2.9,3,3.1,3.2,3.3,3.4,3.5,3.6,3.7,3.8,3.9,4],"labels":false,"title":null,"tickSize":{"condition":{"test":"abs(datum.value*2-round(datum.value*2))<0.001","value":9},"value":5}}},
"y":{"datum":14.83,"type":"quantitative","axis":{"orient":"right","values":[0,0.5,1,1.5,2,2.5,3,3.5,4,4.5,5,5.5,6,6.5,7,7.5,8,8.5,9,9.5,10,10.5,11,11.5,12,12.5,13,13.5,14,14.5,15,15.5,16],"labels":false,"title":null,"tickSize":{"condition":{"test":"abs(datum.value/2-round(datum.value/2))<0.001","value":9},"value":5}}},
"text":{"field":"label"}}}
],
"resolve":{"axis":{"x":"independent","y":"independent"},"scale":{"fill":"independent","stroke":"independent","shape":"independent"}}
},
{"width":460,"height":314,
"layer":[
{"data":{"name":"curves"},"mark":{"type":"line","strokeWidth":4,"interpolate":"monotone"},
"encoding":{
"x":{"field":"age","type":"quantitative","scale":{"domain":[1,4],"reverse":true,"nice":false,"zero":false},"axis":{"orient":"bottom","values":[1,1.1,1.2,1.3,1.4,1.5,1.6,1.7,1.8,1.9,2,2.1,2.2,2.3,2.4,2.5,2.6,2.7,2.8,2.9,3,3.1,3.2,3.3,3.4,3.5,3.6,3.7,3.8,3.9,4],"title":"Age [Gyr]","titlePadding":0,"labelPadding":2,"labelExpr":"abs(datum.value*2-round(datum.value*2))<0.001 ? format(datum.value,'.1f') : ''","tickSize":{"condition":{"test":"abs(datum.value*2-round(datum.value*2))<0.001","value":9},"value":5}}},
"y":{"field":"v","type":"quantitative","scale":{"domain":[0,5.5],"nice":false,"zero":false},"axis":{"orient":"left","values":[0,0.2,0.4,0.6,0.8,1,1.2,1.4,1.6,1.8,2,2.2,2.4,2.6,2.8,3,3.2,3.4,3.6,3.8,4,4.2,4.4,4.6,4.8,5,5.2,5.4],"title":"Mare Area [10⁻⁶ km²]","titlePadding":6,"labelExpr":"abs(datum.value-round(datum.value))<0.001 ? format(datum.value,'d') : ''","tickSize":{"condition":{"test":"abs(datum.value-round(datum.value))<0.001","value":9},"value":5}}},
"color":{"field":"s","type":"nominal","legend":null,"scale":{"domain":["PKT","non-PKT"],"range":["#FF2A00","#1E3FEF"]}}}},
{"data":{"name":"dash"},"mark":{"type":"rule","strokeDash":[5,4],"strokeWidth":1.3,"color":"black"},
"encoding":{"x":{"field":"age","type":"quantitative","axis":null},"y":{"field":"lo","type":"quantitative","axis":null},"y2":{"field":"hi"}}},
{"data":{"name":"notes"},"mark":{"type":"text","fontSize":22,"align":"center","baseline":"middle","color":"black"},
"encoding":{"x":{"field":"x","type":"quantitative","axis":null},"y":{"field":"y","type":"quantitative","axis":null},"text":{"field":"label"}}},
{"data":{"values":[{"label":"(b)"}]},"mark":{"type":"text","align":"right","baseline":"middle","fontSize":20,"color":"black"},
"encoding":{"x":{"datum":1.05,"type":"quantitative","axis":{"orient":"top","values":[1,1.1,1.2,1.3,1.4,1.5,1.6,1.7,1.8,1.9,2,2.1,2.2,2.3,2.4,2.5,2.6,2.7,2.8,2.9,3,3.1,3.2,3.3,3.4,3.5,3.6,3.7,3.8,3.9,4],"labels":false,"title":null,"tickSize":{"condition":{"test":"abs(datum.value*2-round(datum.value*2))<0.001","value":9},"value":5}}},
"y":{"datum":5.12,"type":"quantitative","axis":{"orient":"right","values":[0,0.2,0.4,0.6,0.8,1,1.2,1.4,1.6,1.8,2,2.2,2.4,2.6,2.8,3,3.2,3.4,3.6,3.8,4,4.2,4.4,4.6,4.8,5,5.2,5.4],"labels":false,"title":null,"tickSize":{"condition":{"test":"abs(datum.value-round(datum.value))<0.001","value":9},"value":5}}},
"text":{"field":"label"}}}
],
"resolve":{"axis":{"x":"independent","y":"independent"}}
}
]
}
